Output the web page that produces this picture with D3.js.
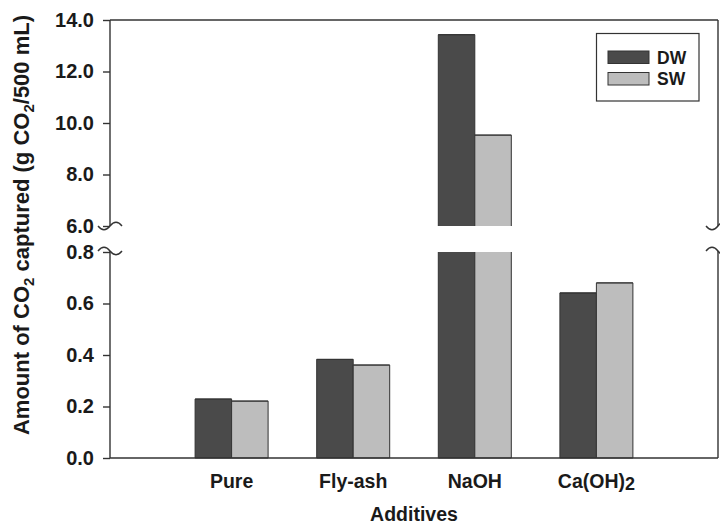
<!DOCTYPE html>
<html>
<head>
<meta charset="utf-8">
<script src="https://cdn.jsdelivr.net/npm/d3@7"></script>
<style>
  html, body { margin: 0; padding: 0; background: #fff; }
  svg { display: block; font-family: "Liberation Sans", Arial, sans-serif; }
</style>
</head>
<body>
<svg id="chart" width="720" height="527"></svg>
<script>
// CO2 captured per additive, distilled water (DW) vs sea water (SW)
const categories = ["Pure", "Fly-ash", "NaOH", "Ca(OH)2"];
const seriesNames = ["DW", "SW"];
const dwValues = [0.229, 0.383, 13.43, 0.641];
const swValues = [0.221, 0.361, 9.53, 0.680];
const upperTicks = [6, 8, 10, 12, 14];
const lowerTicks = [0, 0.2, 0.4, 0.6, 0.8];
const seriesColors = ["#4a4a4a", "#bdbdbd"];

const svg = d3.select("#chart");
const plotLeft = 110, plotRight = 718, plotTop = 20, plotBottom = 458;
const breakUpper = 226, breakLower = 252;
const ink = "#333";

// Two stacked linear scales for the broken y axis
const yUpper = d3.scaleLinear().domain([6, 14]).range([breakUpper, plotTop]);
const yLower = d3.scaleLinear().domain([0, 0.8]).range([plotBottom, breakLower]);

const x = d3.scalePoint().domain(categories).range([plotLeft, plotRight]).padding(1);
const barW = 36.5;
const xs = d3.scaleBand().domain(seriesNames).range([-barW, barW]);

const rows = categories.map((c, i) => ({ cat: c, values: [dwValues[i], swValues[i]] }));

// One bar piece; the outline is left open on an edge cut by the axis break
function barPiece(x0, w, y0, y1, color, openTop, openBottom) {
  g.append("rect").attr("x", x0).attr("width", w)
    .attr("y", y0).attr("height", y1 - y0).attr("fill", color);
  const p = d3.path();
  if (openTop) { p.moveTo(x0, y0); } else { p.moveTo(x0 + w, y0); p.lineTo(x0, y0); }
  p.lineTo(x0, y1);
  if (openBottom) { p.moveTo(x0 + w, y1); } else { p.lineTo(x0 + w, y1); }
  p.lineTo(x0 + w, y0);
  if (!openTop) p.lineTo(x0, y0);
  g.append("path").attr("d", p.toString()).attr("fill", "none")
    .attr("stroke", ink).attr("stroke-width", 1);
}

// Bars: lower segment clipped at 0.8, upper segment drawn when value exceeds 6
const g = svg.append("g");
rows.forEach(r => {
  r.values.forEach((v, j) => {
    const x0 = x(r.cat) + xs(seriesNames[j]);
    const vLow = Math.min(v, 0.8);
    barPiece(x0, xs.bandwidth(), yLower(vLow), yLower(0), seriesColors[j], v > 0.8, false);
    if (v > 6) {
      barPiece(x0, xs.bandwidth(), yUpper(v), yUpper(6), seriesColors[j], false, true);
    }
  });
});

// Frame: top and bottom lines, left and right axes broken between segments
const frame = svg.append("g").attr("stroke", ink).attr("stroke-width", 1.4).attr("fill", "none");
frame.append("line").attr("x1", plotLeft).attr("x2", plotRight).attr("y1", plotTop).attr("y2", plotTop);
frame.append("line").attr("x1", plotLeft).attr("x2", plotRight).attr("y1", plotBottom).attr("y2", plotBottom);
[plotLeft, plotRight].forEach(xx => {
  frame.append("line").attr("x1", xx).attr("x2", xx).attr("y1", plotTop).attr("y2", breakUpper);
  frame.append("line").attr("x1", xx).attr("x2", xx).attr("y1", breakLower - 1).attr("y2", plotBottom);
  // break marks
  const yb1 = breakUpper, yb2 = breakLower - 1;
  frame.append("path").attr("d",
    `M${xx - 12},${yb1} C${xx - 8},${yb1 + 5} ${xx - 4},${yb1 + 5} ${xx},${yb1} C${xx + 4},${yb1 - 5} ${xx + 8},${yb1 - 5} ${xx + 12},${yb1}`);
  frame.append("path").attr("d",
    `M${xx - 12},${yb2} C${xx - 8},${yb2 - 5} ${xx - 4},${yb2 - 5} ${xx},${yb2} C${xx + 4},${yb2 + 5} ${xx + 8},${yb2 + 5} ${xx + 12},${yb2}`);
});

// Left tick marks and labels for both segments
function drawAxis(scale, ticks) {
  const ax = svg.append("g")
    .attr("transform", `translate(${plotLeft},0)`)
    .call(d3.axisLeft(scale).tickValues(ticks).tickSize(7).tickPadding(9)
      .tickFormat(d3.format(".1f")));
  ax.select(".domain").remove();
  ax.selectAll(".tick line").attr("stroke", ink).attr("stroke-width", 1.4);
  ax.selectAll(".tick text")
    .attr("font-family", "Liberation Sans, Arial, sans-serif")
    .attr("font-size", 20).attr("font-weight", "bold").attr("fill", "#1a1a1a");
}
drawAxis(yUpper, upperTicks);
drawAxis(yLower, lowerTicks);

// Category labels
const xl = svg.append("g").attr("font-size", 19.5).attr("font-weight", "bold")
  .attr("fill", "#1a1a1a").attr("text-anchor", "middle");
categories.forEach(c => {
  const t = xl.append("text").attr("x", x(c)).attr("y", 487.5);
  const m = c.match(/^(.*?)(\d)$/);
  if (m) {
    t.append("tspan").text(m[1]);
    t.append("tspan").attr("font-size", 18).attr("dy", 2).text(m[2]);
  } else {
    t.text(c);
  }
});

// Axis titles
svg.append("text").attr("x", 414).attr("y", 521)
  .attr("text-anchor", "middle").attr("font-size", 19.5).attr("font-weight", "bold")
  .attr("fill", "#1a1a1a").text("Additives");

const yt = svg.append("text")
  .attr("transform", "translate(29,225) rotate(-90)")
  .attr("text-anchor", "middle").attr("font-size", 22).attr("font-weight", "bold")
  .attr("fill", "#1a1a1a");
yt.append("tspan").text("Amount of CO");
yt.append("tspan").attr("font-size", 15).attr("dy", 5).text("2");
yt.append("tspan").attr("dy", -5).text(" captured (g CO");
yt.append("tspan").attr("font-size", 15).attr("dy", 5).text("2");
yt.append("tspan").attr("dy", -5).text("/500 mL)");

// Legend
const lg = svg.append("g");
lg.append("rect").attr("x", 596.5).attr("y", 33.5).attr("width", 102.5).attr("height", 67.5)
  .attr("fill", "#fff").attr("stroke", ink).attr("stroke-width", 1.2);
seriesNames.forEach((s, j) => {
  const yy = 51 + j * 21.5;
  lg.append("rect").attr("x", 608).attr("y", yy).attr("width", 41).attr("height", 12.5)
    .attr("fill", seriesColors[j]).attr("stroke", ink).attr("stroke-width", 1);
  lg.append("text").attr("x", 657).attr("y", yy + 12.5)
    .attr("font-size", 17.5).attr("font-weight", "bold").attr("fill", "#1a1a1a").text(s);
});
</script>
</body>
</html>
